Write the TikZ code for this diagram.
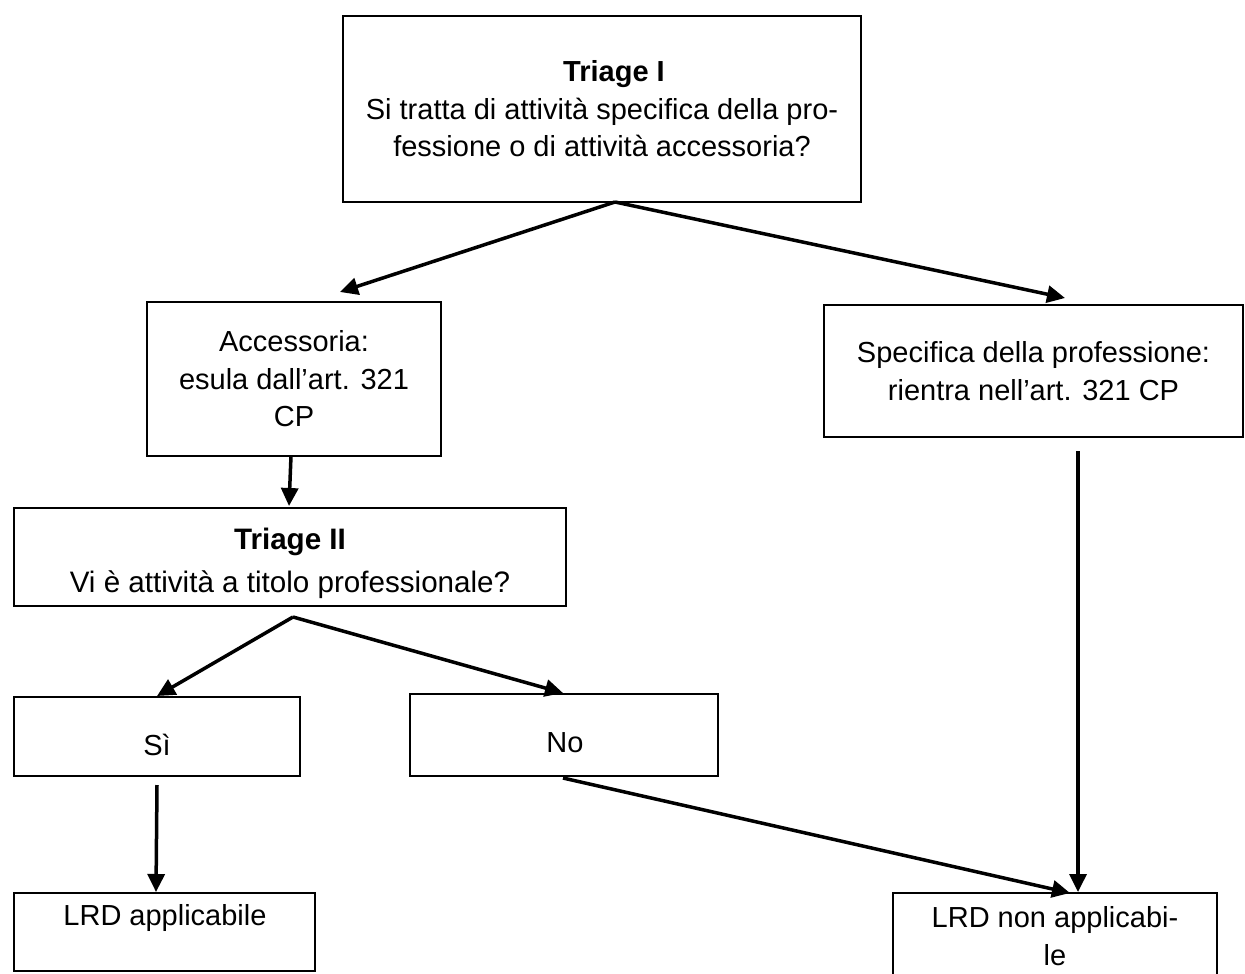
\documentclass[tikz,border=0pt]{standalone}
\usepackage{fontspec}
\setmainfont{Liberation Sans}
\usetikzlibrary{arrows.meta}
\begin{document}
\begin{tikzpicture}[x=0.5pt,y=-0.5pt,
  box/.style={draw, line width=1.1pt, inner sep=0pt, align=center,
    font=\fontsize{14.5}{18.75}\selectfont},
  txt/.style={inner sep=0pt, align=center, font=\fontsize{14.5}{18.75}\selectfont},
  arr/.style={line width=1.75pt, -{Triangle[length=9pt,width=8.5pt]}}]
\useasboundingbox (0,0) rectangle (1245,973);
\fill[white] (0,0) rectangle (1245,973);
% boxes
\node[box, minimum width=259pt, minimum height=93pt] (t1) at (602,109)
  {\hspace*{12pt}\textbf{Triage I}\\Si tratta di attività specifica della pro-\\fessione o di attività accessoria?};
\node[box, minimum width=147pt, minimum height=77pt] (acc) at (294,379)
  {Accessoria:\\esula dall’art. 321\\CP};
\node[box, minimum width=209.5pt, minimum height=66pt] (spec) at (1033.5,371)
  {Specifica della professione:\\rientra nell’art. 321 CP};
\node[box, minimum width=276pt, minimum height=49pt] (t2) at (290,557) {};
\node[txt, font=\fontsize{14.8}{21.5}\selectfont] (t2txt) at (290,563)
  {\textbf{Triage II}\\Vi è attività a titolo professionale?};
\node[box, minimum width=143pt, minimum height=39.5pt] (si) at (157,736.5) {};
\node[txt] (sitxt) at (157,745) {Sì};
\node[box, minimum width=154pt, minimum height=41pt] (no) at (564,735) {};
\node[txt] (notxt) at (565,743) {No};
\node[box, minimum width=150.5pt, minimum height=39pt] (lrda) at (164.5,932) {};
\node[txt] (lrdatxt) at (165,918) {LRD applicabile};
\node[box, minimum width=162pt, minimum height=43pt] (lrdn) at (1055,936)
  {LRD non applicabi-\\le};
% connector end points
\coordinate (t1out) at (615,202);
\coordinate (accin) at (340,292);
\coordinate (specin) at (1065,298);
\coordinate (accout) at (291,456);
\coordinate (t2in) at (289,506);
\coordinate (t2out) at (293,617);
\coordinate (siin) at (157,696);
\coordinate (noin) at (563,693);
\coordinate (siout) at (157,785);
\coordinate (lrdain) at (156,892);
\coordinate (noout) at (563,778);
\coordinate (lrdnin) at (1070,893);
\coordinate (specout) at (1078,451);
\coordinate (lrdnin2) at (1078,892);
% connectors
\draw[arr] (t1out) -- (accin);
\draw[arr] (t1out) -- (specin);
\draw[arr] (accout) -- (t2in);
\draw[arr] (t2out) -- (siin);
\draw[arr] (t2out) -- (noin);
\draw[arr] (siout) -- (lrdain);
\draw[arr] (noout) -- (lrdnin);
\draw[arr] (specout) -- (lrdnin2);
\end{tikzpicture}
\end{document}
